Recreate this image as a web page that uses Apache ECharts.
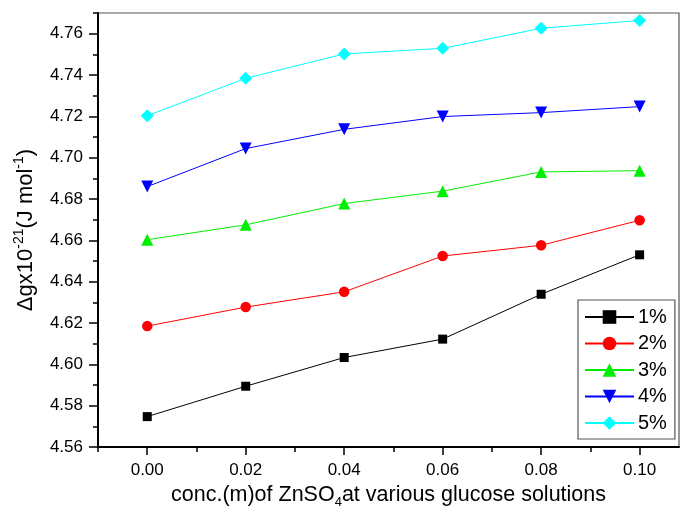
<!DOCTYPE html>
<html>
<head>
<meta charset="utf-8">
<script src="https://cdn.jsdelivr.net/npm/echarts@6/dist/echarts.min.js"></script>
<style>
html, body { margin: 0; padding: 0; background: #fff; }
#chart { width: 684px; height: 515px; }
</style>
</head>
<body>
<div id="chart"></div>
<script>
// 浓度 (x)
var conc = [0.00, 0.02, 0.04, 0.06, 0.08, 0.10];
// 各葡萄糖浓度下的值
var g1 = [4.5747, 4.5894, 4.6033, 4.6122, 4.6339, 4.6530];
var g2 = [4.6185, 4.6277, 4.6351, 4.6524, 4.6576, 4.6697];
var g3 = [4.6603, 4.6675, 4.6778, 4.6838, 4.6931, 4.6937];
var g4 = [4.6860, 4.7044, 4.7137, 4.7199, 4.7218, 4.7247];
var g5 = [4.7203, 4.7384, 4.7502, 4.7529, 4.7626, 4.7664];
var seriesNames = ['1%', '2%', '3%', '4%', '5%'];
// 刻度
var xMajor = [0.00, 0.02, 0.04, 0.06, 0.08, 0.10];
var xMinor = [-0.01, 0.01, 0.03, 0.05, 0.07, 0.09];
var yMajor = [4.56, 4.58, 4.60, 4.62, 4.64, 4.66, 4.68, 4.70, 4.72, 4.74, 4.76];
var yMinor = [4.57, 4.59, 4.61, 4.63, 4.65, 4.67, 4.69, 4.71, 4.73, 4.75, 4.77];

var font = 'Liberation Sans, Arial, sans-serif';
var chart = echarts.init(document.getElementById('chart'));

function pairs(ys) {
	var out = [];
	for (var i = 0; i < conc.length; i++) {
		out.push([conc[i], ys[i]]);
	}
	return out;
}

function mkSeries(name, ys, color, symbol, size, rotate) {
	return {
		name: name,
		type: 'line',
		data: pairs(ys),
		symbol: symbol,
		symbolSize: size,
		symbolRotate: rotate || 0,
		showAllSymbol: true,
		lineStyle: { color: color, width: 1 },
		itemStyle: { color: color },
		emphasis: { disabled: true },
		animation: false
	};
}

var xRange = { min: -0.01, max: 0.108 };
var yRange = { min: 4.56, max: 4.77 };

chart.setOption({
	animation: false,
	grid: {
		left: 98, right: 5, top: 13, bottom: 68,
		show: true, borderColor: '#555', borderWidth: 1.2,
		backgroundColor: 'transparent'
	},
	legend: {
		orient: 'vertical',
		left: 578, top: 300,
		padding: [7, 8, 6, 6],
		itemWidth: 49, itemHeight: 17, itemGap: 6.5,
		borderColor: '#555', borderWidth: 1.2,
		backgroundColor: '#fff',
		textStyle: { fontFamily: font, fontSize: 20, color: '#000', padding: [0, 0, 0, -1] },
		data: seriesNames
	},
	xAxis: [{
		type: 'value', min: xRange.min, max: xRange.max,
		axisLine: { onZero: false, lineStyle: { color: '#000', width: 2 } },
		axisTick: { customValues: xMinor, length: 5, lineStyle: { color: '#000', width: 1.5 } },
		axisLabel: {
			customValues: xMajor, margin: 15,
			fontFamily: font, fontSize: 17, color: '#000',
			formatter: function (v) { return v.toFixed(2); }
		},
		splitLine: { show: false },
		name: '{n|conc.(m)of ZnSO}{sub|4}{n|at various glucose solutions}',
		nameLocation: 'middle', nameGap: 32,
		nameTextStyle: {
			rich: {
				n: { fontFamily: font, fontSize: 21.5, color: '#000', lineHeight: 28 },
				sub: { fontFamily: font, fontSize: 13, color: '#000', lineHeight: 18, verticalAlign: 'bottom' }
			}
		}
	}, {
		type: 'value', min: xRange.min, max: xRange.max, position: 'bottom',
		axisLine: { show: false, onZero: false },
		axisTick: { show: true, customValues: xMajor, length: 8, lineStyle: { color: '#000', width: 1.5 } },
		axisLabel: { show: false },
		splitLine: { show: false }
	}],
	yAxis: [{
		type: 'value', min: yRange.min, max: yRange.max,
		axisLine: { show: true, onZero: false, lineStyle: { color: '#000', width: 2 } },
		axisTick: { show: true, customValues: yMinor, length: 5, lineStyle: { color: '#000', width: 1.5 } },
		axisLabel: {
			customValues: yMajor, margin: 15,
			fontFamily: font, fontSize: 17, color: '#000',
			formatter: function (v) { return v.toFixed(2); }
		},
		splitLine: { show: false },
		name: '{n|Δgx10}{sup|-21}{n|(J mol}{sup|-1}{n|)}',
		nameLocation: 'middle', nameGap: 58,
		nameTextStyle: {
			rich: {
				n: { fontFamily: font, fontSize: 22, color: '#000', lineHeight: 28 },
				sup: { fontFamily: font, fontSize: 14, color: '#000', lineHeight: 16, verticalAlign: 'top' }
			}
		}
	}, {
		type: 'value', min: yRange.min, max: yRange.max, position: 'left',
		axisLine: { show: false, onZero: false },
		axisTick: { show: true, customValues: yMajor, length: 9, lineStyle: { color: '#000', width: 1.5 } },
		axisLabel: { show: false },
		splitLine: { show: false }
	}],
	series: [
		mkSeries('1%', g1, '#000000', 'rect', 9),
		mkSeries('2%', g2, '#ff0000', 'circle', 10.5),
		mkSeries('3%', g3, '#00ee00', 'triangle', 12),
		mkSeries('4%', g4, '#0000ff', 'triangle', 12, 180),
		mkSeries('5%', g5, '#00ffff', 'diamond', [13, 13])
	]
});
</script>
</body>
</html>
